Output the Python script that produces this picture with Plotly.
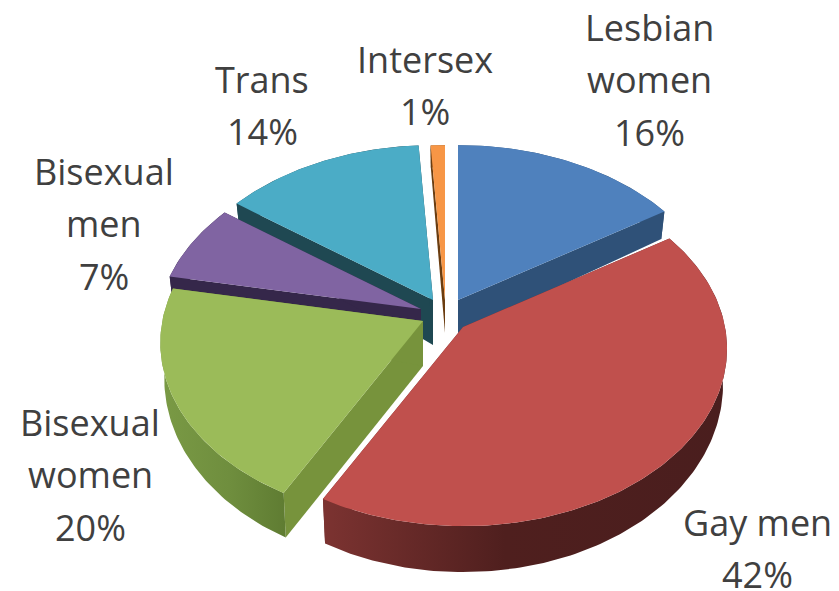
import math
import plotly.graph_objects as go

# ---- data ----
categories = ["Lesbian women", "Gay men", "Bisexual women", "Bisexual men", "Trans", "Intersex"]
values = [16, 42, 20, 7, 14, 1]
top_colors = ["#4f81bd", "#c0504d", "#9bbb59", "#8064a2", "#4bacc6", "#f79646"]
wall_colors = ["#2f5178", "#6e2c2b", "#77933c", "#35274a", "#1f4852", "#6b3d10"]
side_scales = [
    [[0, "#2f5178"], [1, "#2f5178"]],
    [[0, "#7c3331"], [0.45, "#4f1f1e"], [1, "#4a1e1e"]],
    [[0, "#7a9a45"], [0.55, "#6f8e3e"], [1, "#5f7c32"]],
    [[0, "#35274a"], [1, "#35274a"]],
    [[0, "#1f4852"], [1, "#1f4852"]],
    [[0, "#6b3d10"], [1, "#6b3d10"]],
]
label_lines = {
    "Lesbian women": ["Lesbian", "women", "16%"],
    "Gay men": ["Gay men", "42%"],
    "Bisexual women": ["Bisexual", "women", "20%"],
    "Bisexual men": ["Bisexual", "men", "7%"],
    "Trans": ["Trans", "14%"],
    "Intersex": ["Intersex", "1%"],
}

# ---- layout of the projected pie (pixels of the page) ----
W, H = 839, 591
APEX = {"Lesbian women": (458, 300), "Gay men": (463, 327), "Bisexual women": (423, 321),
        "Bisexual men": (421, 309), "Trans": (433, 300), "Intersex": (445, 300)}
RADIUS_SCALE = {"Bisexual women": 0.995, "Gay men": 1.0}
LABEL_POS = {"Lesbian women": (649, 27), "Gay men": (757, 522), "Bisexual women": (90, 422),
             "Bisexual men": (104, 171), "Trans": (262, 79), "Intersex": (425, 59)}
LINE_STEP = 52.5
RX, RY, K = 262, 177, 0.125
FONT_SIZE = 36


def project(apex, theta, scale=1.0):
    p = 1 - K * math.cos(theta)
    return apex[0] + RX * scale * math.sin(theta) * p, apex[1] - RY * math.cos(theta) * p


def drop(apex, pt, theta=None):
    """Same point on the underside of the disc."""
    c = math.cos(theta) if theta is not None else 1.0
    depth = 34 - 12 * c
    return apex[0] + (pt[0] - apex[0]) * 0.985, pt[1] + depth


def poly(xs, ys, color=None, scale=None):
    kw = dict(x=xs, y=ys, mode="lines", fill="toself", line=dict(width=0), hoverinfo="skip", showlegend=False)
    if scale:
        kw["fillgradient"] = dict(type="horizontal", colorscale=scale)
    else:
        kw["fillcolor"] = color
    return go.Scatter(**kw)


total = sum(values)
start = 0.0
slices = []
for i, (name, v) in enumerate(zip(categories, values)):
    a0 = start / total * 2 * math.pi
    a1 = (start + v) / total * 2 * math.pi
    start += v
    slices.append((i, name, a0, a1))

order = [5, 4, 0, 3, 2, 1]  # back to front
fig = go.Figure()
for i in order:
    _, name, a0, a1 = slices[i]
    apex = APEX[name]
    rs = RADIUS_SCALE.get(name, 1.0)
    n = max(4, int((a1 - a0) * 60))
    ths = [a0 + (a1 - a0) * j / n for j in range(n + 1)]
    arc = [project(apex, t, rs) for t in ths]
    arc_low = [drop(apex, pt, t) for pt, t in zip(arc, ths)]
    ap_low = (apex[0], apex[1] + 33 + (12 if name in ("Gay men", "Bisexual women", "Trans") else 0))
    for pt, low in ((arc[0], arc_low[0]), (arc[-1], arc_low[-1])):
        fig.add_trace(poly([apex[0], pt[0], low[0], ap_low[0], apex[0]],
                           [apex[1], pt[1], low[1], ap_low[1], apex[1]], color=wall_colors[i]))
    xs = [p[0] for p in arc] + [p[0] for p in reversed(arc_low)]
    ys = [p[1] for p in arc] + [p[1] for p in reversed(arc_low)]
    fig.add_trace(poly(xs + xs[:1], ys + ys[:1], scale=side_scales[i]))
    fig.add_trace(poly([apex[0]] + [p[0] for p in arc] + [apex[0]],
                       [apex[1]] + [p[1] for p in arc] + [apex[1]], color=top_colors[i]))

for name in categories:
    x0, y0 = LABEL_POS[name]
    for j, line in enumerate(label_lines[name]):
        fig.add_annotation(x=x0, y=y0 + j * LINE_STEP, text=line, showarrow=False,
                           xanchor="center", yanchor="middle",
                           font=dict(family="Open Sans", size=FONT_SIZE, color="#404040"))

fig.update_layout(
    width=W, height=H, margin=dict(l=0, r=0, t=0, b=0),
    paper_bgcolor="white", plot_bgcolor="white", showlegend=False,
    xaxis=dict(range=[0, W], visible=False, fixedrange=True),
    yaxis=dict(range=[H, 0], visible=False, fixedrange=True),
)
fig.write_html("out.html", config={"displayModeBar": False},
               post_script="document.body.style.margin='0';document.body.style.overflow='hidden';")
